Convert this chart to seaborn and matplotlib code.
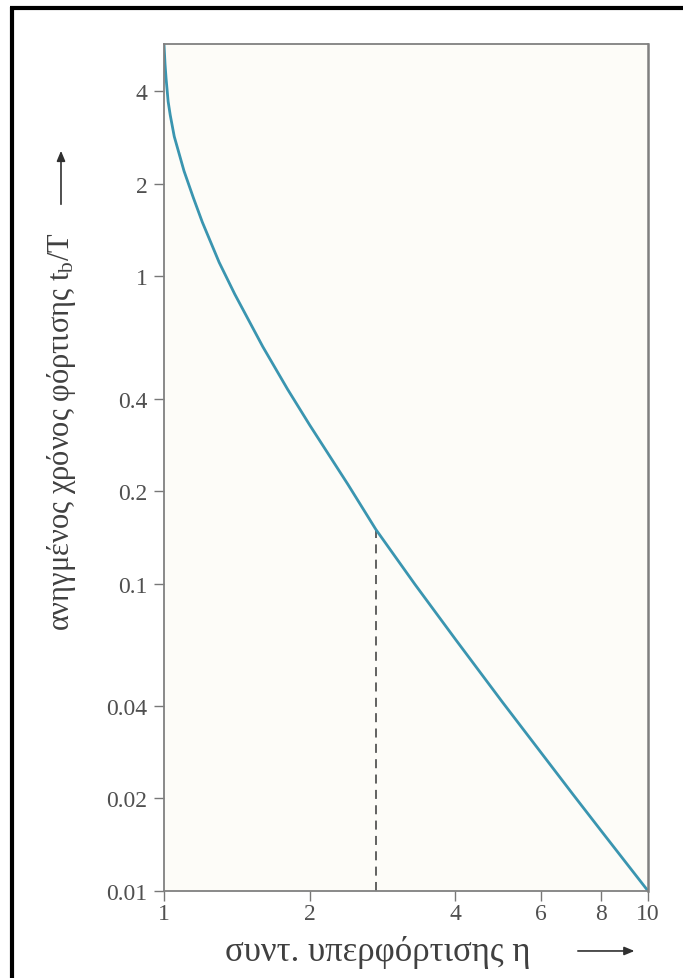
import matplotlib
matplotlib.use("Agg")
import matplotlib.pyplot as plt
import pandas as pd
import seaborn as sns
from matplotlib.lines import Line2D
from matplotlib.patches import FancyArrowPatch
from matplotlib.ticker import FixedLocator, FixedFormatter, NullLocator

# overload factor η and normalised loading time t_b/T
eta = [1.0, 1.005, 1.01, 1.02, 1.03, 1.05, 1.1, 1.15, 1.2, 1.3, 1.4, 1.6, 1.8,
       2.0, 2.4, 2.74, 3.3, 4.0, 5.0, 6.0, 7.0, 8.0, 10.0]
t_ratio = [5.7, 4.9, 4.4, 3.7, 3.35, 2.85, 2.2, 1.8, 1.5, 1.11, 0.875, 0.59, 0.429,
           0.328, 0.21, 0.15, 0.0994, 0.0659, 0.0412, 0.0283, 0.0206, 0.0157, 0.01]

# marked operating point (dashed drop line)
marker_eta = 2.74
marker_t = 0.15

x_ticks = [1, 2, 4, 6, 8, 10]
x_tick_labels = ["1", "2", "4", "6", "8", "10"]
y_ticks = [0.01, 0.02, 0.04, 0.1, 0.2, 0.4, 1, 2, 4]
y_tick_labels = ["0.01", "0.02", "0.04", "0.1", "0.2", "0.4", "1", "2", "4"]

x_label = "συντ. υπερφόρτισης η"
y_label = r"ανηγμένος χρόνος φόρτισης $\mathregular{t_b}$/T"

sns.set_theme(style="ticks")
plt.rcParams["font.family"] = ["Liberation Serif", "DejaVu Serif"]
plt.rcParams["mathtext.fontset"] = "custom"
plt.rcParams["mathtext.rm"] = "Liberation Serif"
plt.rcParams["mathtext.it"] = "Liberation Serif:italic"

fig = plt.figure(figsize=(6.83, 9.79), dpi=100)
fig.patch.set_facecolor("white")
ax = fig.add_axes([0.2401, 0.0889, 0.7087, 0.8652])
ax.set_facecolor("#fdfcf8")

df = pd.DataFrame({"eta": eta, "t": t_ratio})
sns.lineplot(data=df, x="eta", y="t", ax=ax, color="#3a95b0", linewidth=2.0)

ax.set_xscale("log")
ax.set_yscale("log")
ax.set_xlim(1, 10)
ax.set_ylim(0.01, 5.7)

ax.vlines(marker_eta, 0.01, marker_t, colors="#555555", linewidth=1.3,
          linestyles=(0, (5, 3.5)), zorder=1)

ax.xaxis.set_major_locator(FixedLocator(x_ticks))
ax.xaxis.set_major_formatter(FixedFormatter(x_tick_labels))
ax.xaxis.set_minor_locator(NullLocator())
ax.yaxis.set_major_locator(FixedLocator(y_ticks))
ax.yaxis.set_major_formatter(FixedFormatter(y_tick_labels))
ax.yaxis.set_minor_locator(NullLocator())

ax.tick_params(axis="both", which="major", direction="out", length=7,
               width=1.0, color="#777777", labelcolor="#505050",
               labelsize=17)
ax.tick_params(axis="x", pad=2)
ax.tick_params(axis="y", pad=5)

for side in ["left", "right", "top", "bottom"]:
    ax.spines[side].set_visible(True)
    ax.spines[side].set_color("#808080")
    ax.spines[side].set_linewidth(1.3)
ax.spines["right"].set_linewidth(1.8)

ax.set_xlabel(x_label, fontsize=25, color="#404040", va="center")
ax.xaxis.set_label_coords(0.441, -0.071)
ax.set_ylabel(y_label, fontsize=22, color="#404040", va="center")
ax.yaxis.set_label_coords(-0.211, 0.544)

# direction arrows next to the axis titles
fig.add_artist(FancyArrowPatch(
    (0.842, 0.0276), (0.933, 0.0276), transform=fig.transFigure,
    arrowstyle="-|>,head_length=6,head_width=2.5", color="#303030", lw=1.2))
fig.add_artist(FancyArrowPatch(
    (0.0893, 0.7875), (0.0893, 0.8478), transform=fig.transFigure,
    arrowstyle="-|>,head_length=6,head_width=2.5", color="#303030", lw=1.2))

# page frame: heavy rule on the left and along the top
fig.add_artist(Line2D([0.0176, 0.0176], [0.0, 0.9918], transform=fig.transFigure,
                      color="black", linewidth=3.0, solid_capstyle="butt"))
fig.add_artist(Line2D([0.0146, 1.0], [0.9908, 0.9908], transform=fig.transFigure,
                      color="black", linewidth=3.0, solid_capstyle="butt"))

fig.savefig("out.png", dpi=100)
